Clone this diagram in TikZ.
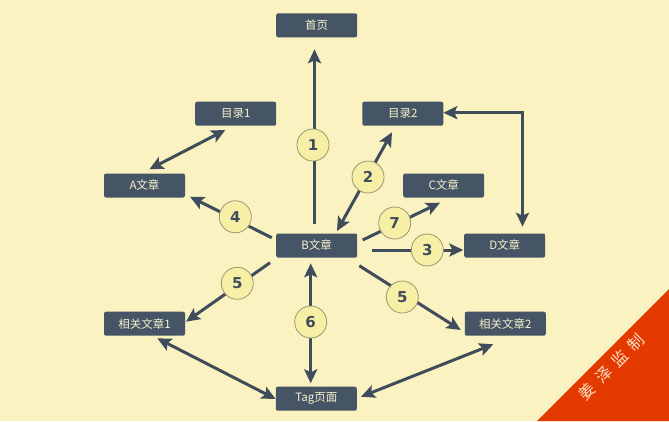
\documentclass[tikz,border=0pt]{standalone}
\usepackage{fontspec}
\setmainfont{Noto Sans CJK SC}
\newfontfamily\numfont{DejaVu Sans}
\usetikzlibrary{arrows.meta,calc}
\definecolor{bgc}{HTML}{FAF2C0}
\definecolor{boxc}{HTML}{455565}
\definecolor{linec}{HTML}{3F4C5C}
\definecolor{circf}{HTML}{F7EFA5}
\definecolor{circd}{HTML}{9A9870}
\definecolor{txtc}{HTML}{F7F2CC}
\definecolor{orc}{HTML}{E43A00}
\definecolor{wmc}{HTML}{FCE0C4}
\tikzset{
  pagebox/.style={fill=boxc, rounded corners=2pt, minimum width=81pt, minimum height=24pt, inner sep=0pt, text=txtc, font=\fontsize{11.5}{11.5}\selectfont},
  numcirc/.style={circle, fill=circf, draw=circd, line width=0.8pt, minimum size=32pt, inner sep=0pt, text=linec, font=\numfont\bfseries\fontsize{15}{15}\selectfont},
  tipa/.tip={Stealth[length=14pt,width=13pt,inset=3pt]},
  arr/.style={draw=linec, line width=3pt, -tipa},
  darr/.style={draw=linec, line width=3pt, tipa-tipa},
}
\begin{document}
\begin{tikzpicture}[x=1pt,y=-1pt]
\fill[bgc] (0,0) rectangle (669,421);
\useasboundingbox (0,0) rectangle (669,421);
% boxes
\node[pagebox] (home) at (316.7,25.3) {首页};
\node[pagebox] (ml1) at (235.7,113.7) {目录1};
\node[pagebox] (ml2) at (402.8,113.7) {目录2};
\node[pagebox] (artA) at (144.5,185.5) {A文章};
\node[pagebox] (artC) at (443.7,185.5) {C文章};
\node[pagebox] (artB) at (316.7,245.5) {B文章};
\node[pagebox] (artD) at (504.7,245.5) {D文章};
\node[pagebox] (rel1) at (144.5,323.7) {相关文章1};
\node[pagebox] (rel2) at (505.3,323.7) {相关文章2};
\node[pagebox] (tag) at (316.3,398.7) {Tag页面};
% connectors
\draw[arr] ($(artB)+(-2.2,-21.5)$) -- ($(home)+(-2.2,24)$);
\draw[darr] ($(artB)+(20.3,-14.5)$) -- ($(ml2)+(-10.8,18.6)$);
\draw[arr] ($(artB)+(-45,-7.8)$) -- ($(artA)+(45.5,11.2)$);
\draw[darr] ($(artA)+(4.8,-16.2)$) -- ($(ml1)+(-10.4,16.3)$);
\draw[arr] ($(artB)+(46,-5.5)$) -- ($(artC)+(-3.7,17.2)$);
\draw[arr] ($(artB)+(55,4.5)$) -- ($(artD)+(-41.4,4.5)$);
\draw[darr] ($(ml2)+(40.5,-1)$) -| ($(artD)+(17.8,-18.8)$);
\draw[arr] ($(artB)+(-46.7,17.2)$) -- ($(rel1)+(41.5,-2)$);
\draw[arr] ($(artB)+(42.6,20.2)$) -- ($(rel2)+(-44.6,6.3)$);
\draw[darr] ($(artB)+(-6,17.8)$) -- ($(tag)+(-5.6,-15.4)$);
\draw[darr] ($(rel1)+(12.8,14.6)$) -- ($(tag)+(-40.6,0.3)$);
\draw[darr] ($(rel2)+(-12,20.6)$) -- ($(tag)+(44.7,-2)$);
% number circles
\node[numcirc] (c1) at (313,145) {1};
\node[numcirc] (c2) at (368,177) {2};
\node[numcirc] (c4) at (235.3,216.8) {4};
\node[numcirc] (c7) at (394.7,223) {7};
\node[numcirc] (c3) at (427.3,250) {3};
\node[numcirc] (c5a) at (237.3,283.3) {5};
\node[numcirc] (c5b) at (402.3,297) {5};
\node[numcirc] (c6) at (310.7,322) {6};
% watermark corner
\fill[orc] (537,421) -- (669,289) -- (669,421) -- cycle;
\node[rotate=45, text=wmc, font=\fontsize{16}{16}\selectfont, inner sep=0pt] (wm) at (611.7,366.7) {姜\kern7pt 泽\kern7pt 监\kern7pt 制};
\end{tikzpicture}
\end{document}
